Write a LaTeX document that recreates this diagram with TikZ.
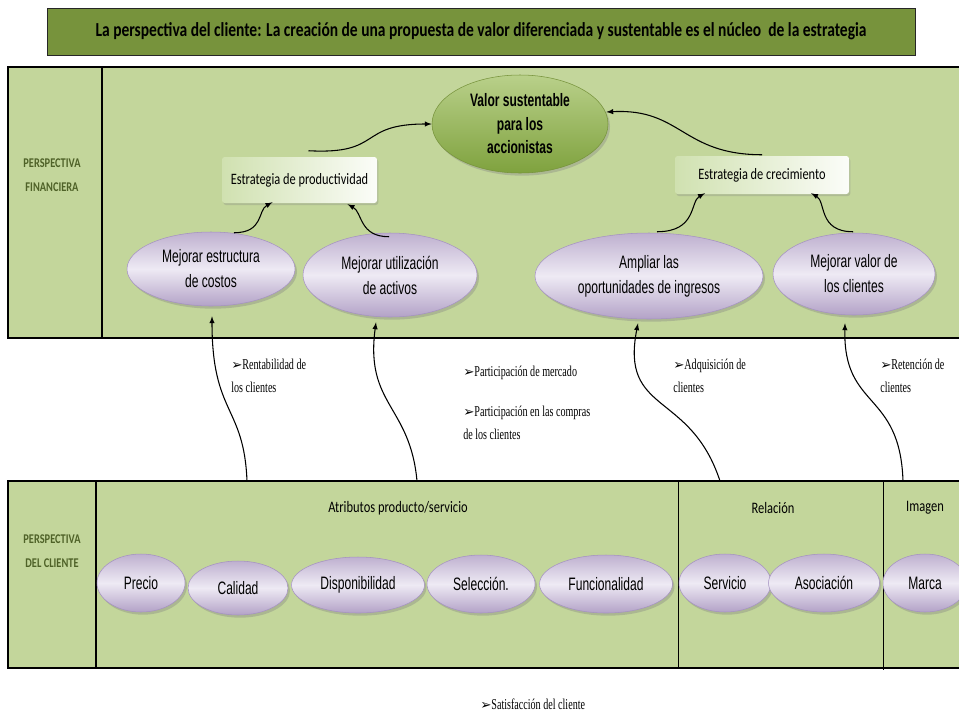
\documentclass[tikz,border=0pt]{standalone}
\usepackage{fontspec}
\setmainfont[FakeStretch=0.78]{Carlito}
\newfontfamily\narrowfont[FakeStretch=0.67]{Liberation Sans}
\newfontfamily\serifnarrow[FakeStretch=0.67]{Liberation Serif}
\newfontfamily\glyphfont{DejaVu Sans}
\usetikzlibrary{shapes.geometric,shadows}
\definecolor{titleolive}{HTML}{77933C}
\definecolor{panelgreen}{HTML}{C3D69B}
\definecolor{labelgreen}{HTML}{4F6228}
\definecolor{lilac}{HTML}{B3A2C7}
\definecolor{lilaclight}{HTML}{EEEAF4}
\definecolor{lilacedge}{HTML}{A592C2}
\definecolor{valtop}{HTML}{B9D08A}
\definecolor{valbot}{HTML}{7FA23E}
\definecolor{boxgreen}{HTML}{D0E1B0}
\newcommand{\bulletarrow}{{\glyphfont\fontsize{10}{8}\selectfont ➢}}
\begin{document}
\begin{tikzpicture}[x=0.75pt,y=-0.75pt,>=latex,
  panel/.style={draw=black,fill=panelgreen,line width=0.9pt},
  sidelabel/.style={font=\bfseries\fontsize{10}{18}\selectfont,text=labelgreen,align=center},
  sz/.style 2 args={minimum width=#1*0.75pt,minimum height=#2*0.75pt,inner sep=0pt},
  objective/.style={ellipse,draw=lilacedge,top color=lilac!85,bottom color=lilac,middle color=lilaclight,
    font=\narrowfont\fontsize{13.5}{18.75}\selectfont,align=center,
    drop shadow={shadow xshift=1.5pt,shadow yshift=-2pt,opacity=0.35}},
  strategy/.style={rounded corners=2pt,left color=boxgreen,right color=white!92!boxgreen,
    font=\fontsize{11.9}{13}\selectfont,
    drop shadow={shadow xshift=1pt,shadow yshift=-1.5pt,opacity=0.3}},
  header/.style={font=\fontsize{12}{13}\selectfont},
  measure/.style={anchor=north west,inner sep=0pt,align=left,font=\serifnarrow\fontsize{11.3}{17.3}\selectfont},
  link/.style={->,line width=0.8pt}]
\useasboundingbox (0,0) rectangle (959,715);

% titulo
\node[draw=black!85,fill=titleolive,sz={868}{47},font=\bfseries\fontsize{14.9}{16}\selectfont] (title) at (481,31.5)
  {La perspectiva del cliente: La creación de una propuesta de valor diferenciada y sustentable es el núcleo\ \ de la estrategia};

% perspectiva financiera
\draw[panel] (8,67) rectangle (964,338);
\draw[line width=0.9pt] (102,67) -- (102,338);
\node[sidelabel] (finlabel) at (52,175) {PERSPECTIVA\\FINANCIERA};

\node[ellipse,draw=titleolive,top color=valtop,bottom color=valbot,sz={176}{98},align=center,
  font=\narrowfont\bfseries\fontsize{13.5}{17.6}\selectfont,
  drop shadow={shadow xshift=1.5pt,shadow yshift=-2pt,opacity=0.35}] (value) at (520,124)
  {Valor sustentable\\para los\\accionistas};
\node[strategy,sz={155}{46}] (prod) at (299.5,180) {Estrategia de productividad};
\node[strategy,sz={174}{38}] (growth) at (762,175) {Estrategia de crecimiento};

\node[objective,sz={168}{74}] (costs) at (211,269) {Mejorar estructura\\de costos};
\node[objective,sz={174}{84}] (assets) at (390,275) {Mejorar utilización\\de activos};
\node[objective,sz={228}{86}] (revenue) at (649,276) {Ampliar las\\oportunidades de ingresos};
\node[objective,sz={162}{82}] (custval) at (854,274) {Mejorar valor de\\los clientes};

\draw[link] ([shift={(9,-6)}]prod.north) .. controls +(75,4) and +(-75,0) .. (value.west);
\draw[link] ([shift={(0,-1)}]growth.north) .. controls +(-80,0) and +(75,-4) .. ([shift={(-2,-12)}]value.east);
\draw[link] ([shift={(23,1)}]costs.north) .. controls +(30,0) and +(-15,8) .. ([shift={(-27,-1)}]prod.south);
\draw[link] ([shift={(-1,4)}]assets.north) .. controls +(-30,0) and +(15,8) .. ([shift={(48,1)}]prod.south);
\draw[link] ([shift={(8,-1)}]revenue.north) .. controls +(40,0) and +(-15,8) .. ([shift={(-57,-1)}]growth.south);
\draw[link] ([shift={(-1,-1)}]custval.north) .. controls +(-35,0) and +(15,8) .. ([shift={(49,-1)}]growth.south);

% indicadores
\node[measure] (profit) at (231,359) {\bulletarrow Rentabilidad de\\los clientes};
\node[measure] (share) at (463,366) {\bulletarrow Participación de mercado};
\node[measure] (wallet) at (463,406) {\bulletarrow Participación en las compras\\de los clientes};
\node[measure] (acquire) at (673,359) {\bulletarrow Adquisición de\\clientes};
\node[measure] (retain) at (880,359) {\bulletarrow Retención de\\clientes};
\node[measure] (satisf) at (480,699) {\bulletarrow Satisfacción del cliente};

% perspectiva del cliente
\draw[panel] (8,481) rectangle (964,668);
\draw[line width=0.9pt] (96,481) -- (96,668);
\draw (678,481) -- (678,668);
\draw (883,481) -- (883,670);
\node[sidelabel] (clilabel) at (52,551) {PERSPECTIVA\\DEL CLIENTE};
\node[header] (attr) at (398,508) {Atributos producto/servicio};
\node[header] (rel) at (773,508) {Relación};
\node[header] (img) at (925,508) {Imagen};

\coordinate (t1) at (247,481);
\coordinate (t2) at (417,481);
\coordinate (t3) at (720,481);
\coordinate (t4) at (903,481);

\node[objective,sz={88}{58}] (price) at (141,583) {Precio};
\node[objective,sz={100}{54}] (quality) at (238,588) {Calidad};
\node[objective,sz={133}{56}] (avail) at (358,585) {Disponibilidad};
\node[objective,sz={108}{58}] (select) at (481,584) {Selección.};
\node[objective,sz={133}{58}] (funct) at (606,584) {Funcionalidad};
\node[objective,sz={92}{58}] (service) at (725,583) {Servicio};
\node[objective,sz={111}{58}] (partner) at (824,583) {Asociación};
\node[objective,sz={84}{58}] (brand) at (925,583) {Marca};

\draw[link] (t1) .. controls (244,405) and (212,415) .. ([shift={(1,10)}]costs.south);
\draw[link] (t2) .. controls (410,405) and (365,405) .. ([shift={(-14,5)}]assets.south);
\draw[link] (t3) .. controls (690,390) and (620,415) .. ([shift={(-11,4)}]revenue.south);
\draw[link] (t4) .. controls (900,390) and (843,410) .. ([shift={(-9,8)}]custval.south);
\end{tikzpicture}
\end{document}
